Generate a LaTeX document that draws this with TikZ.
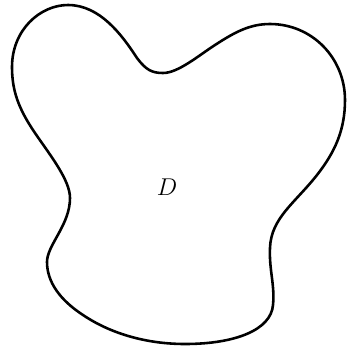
\documentclass[tikz,border=0pt]{standalone}
\usepackage{tikz}
\usetikzlibrary{positioning}

\begin{document}
\begin{tikzpicture}[
    x=0.03cm, y=-0.03cm,
    boundary/.style={line width=2.2pt, black, line join=round},
    region/.style={font=\huge}
  ]
    \useasboundingbox (0,0) rectangle (348,350);

    % closed boundary curve of the region
    \draw[boundary] (68,5)
      .. controls (100,5) and (122,35) .. (137,58)
      .. controls (146,70) and (152,73) .. (163,73)
      .. controls (178,73) and (198,56) .. (215,45)
      .. controls (235,32) and (250,24) .. (270,24)
      .. controls (312,24) and (345,58) .. (345,100)
      .. controls (345,130) and (335,152) .. (317,175)
      .. controls (295,203) and (271,218) .. (270,248)
      .. controls (269,270) and (275,285) .. (273,305)
      .. controls (271,330) and (235,344) .. (185,344)
      .. controls (140,344) and (105,330) .. (83,315)
      .. controls (60,300) and (47,282) .. (47,262)
      .. controls (47,245) and (70,225) .. (70,198)
      .. controls (70,180) and (50,155) .. (35,133)
      .. controls (18,108) and (12,90) .. (12,67)
      .. controls (12,30) and (40,5) .. cycle;

    \node[region] (d) at (167,187) {$D$};

  \end{tikzpicture}
\end{document}
